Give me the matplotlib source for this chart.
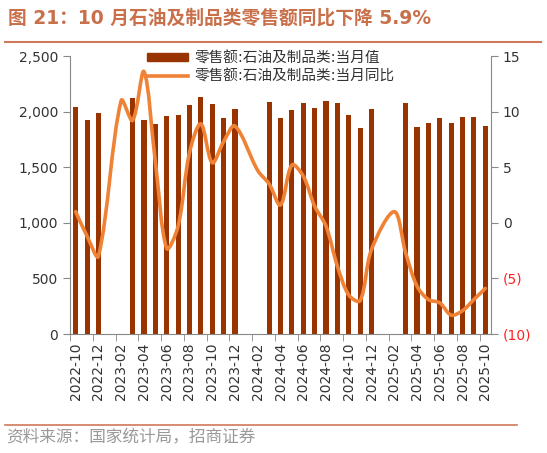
import numpy as np
import matplotlib
matplotlib.use('Agg')
import matplotlib.pyplot as plt
from matplotlib.path import Path
from matplotlib.patches import PathPatch
from matplotlib.lines import Line2D
from matplotlib.patches import Rectangle

plt.rcParams['font.family'] = ['DejaVu Sans', 'Noto Sans CJK SC']

# 月份（2022-10 到 2025-10）
months = ['2022-10', '2022-11', '2022-12',
          '2023-01', '2023-02', '2023-03', '2023-04', '2023-05', '2023-06',
          '2023-07', '2023-08', '2023-09', '2023-10', '2023-11', '2023-12',
          '2024-01', '2024-02', '2024-03', '2024-04', '2024-05', '2024-06',
          '2024-07', '2024-08', '2024-09', '2024-10', '2024-11', '2024-12',
          '2025-01', '2025-02', '2025-03', '2025-04', '2025-05', '2025-06',
          '2025-07', '2025-08', '2025-09', '2025-10']

# 当月值（亿元），1、2 月无单月数据
sales = [2045, 1925, 1990,
         np.nan, np.nan, 2120, 1920, 1890, 1960,
         1965, 2060, 2130, 2065, 1940, 2025,
         np.nan, np.nan, 2090, 1945, 2010, 2075,
         2035, 2095, 2075, 1965, 1855, 2025,
         np.nan, np.nan, 2075, 1865, 1895, 1945,
         1895, 1955, 1950, 1875]

# 当月同比（%）
yoy = [1.0, -1.2, -3.0,
       np.nan, 11.0, 9.2, 13.6, 5.5, -2.3,
       -0.3, 6.3, 8.9, 5.4, 7.3, 8.7,
       np.nan, 4.7, 3.5, 1.6, 5.2, 4.2,
       1.5, -0.3, -3.9, -6.5, -7.0, -2.4,
       np.nan, 1.0, -2.7, -5.7, -6.9, -7.2,
       -8.3, -7.9, -6.9, -5.9]

left_ticks = [0, 500, 1000, 1500, 2000, 2500]
right_ticks = [-10, -5, 0, 5, 10, 15]
right_labels = ['(10)', '(5)', '0', '5', '10', '15']

bar_color = '#993300'
line_color = '#F08236'
accent = '#D0785A'

x = np.arange(len(months))
sales = np.array(sales, dtype=float)
yoy = np.array(yoy, dtype=float)

fig = plt.figure(figsize=(5.47, 4.53), dpi=100)
ax1 = fig.add_axes([70 / 547, 1 - 334 / 453, 421 / 547, 278 / 453])
ax2 = ax1.twinx()

ok = ~np.isnan(sales)
ax1.bar(x[ok], sales[ok], width=0.45, color=bar_color, zorder=2)
ax1.set_ylim(0, 2500)
ax1.set_yticks(left_ticks)
ax1.set_yticklabels([f'{v:,}' for v in left_ticks])
ax1.set_xlim(-0.5, len(months) - 0.5)
ax2.set_ylim(-10, 15)

# 平滑曲线（类似 Excel 的平滑线，切线长度按相邻线段长度分配，仅用于绘制）
sx = 421 / len(months)   # 每个月的像素宽
sy = 278 / 25            # 每个百分点的像素高
m = ~np.isnan(yoy)
P = np.column_stack([x[m] * sx, yoy[m] * sy])
n = len(P)
tan = []
for i in range(n):
    a = P[max(i - 1, 0)]
    b = P[min(i + 1, n - 1)]
    tan.append(b - a)
verts = [tuple(P[0])]
codes = [Path.MOVETO]
for i in range(n - 1):
    p1, p2 = P[i], P[i + 1]
    d12 = np.hypot(*(p2 - p1))
    d01 = np.hypot(*(p1 - P[i - 1])) if i > 0 else d12
    d23 = np.hypot(*(P[i + 2] - p2)) if i + 2 < n else d12
    c1 = p1 + tan[i] * d12 / (d01 + d12) / 3
    c2 = p2 - tan[i + 1] * d12 / (d12 + d23) / 3
    verts += [tuple(c1), tuple(c2), tuple(p2)]
    codes += [Path.CURVE4] * 3
verts = [(vx / sx, vy / sy) for vx, vy in verts]
ax2.add_patch(PathPatch(Path(verts, codes), facecolor='none',
                        edgecolor=line_color, lw=2.6, capstyle='round',
                        joinstyle='round', zorder=3))
ax2.set_yticks(right_ticks)
ax2.set_yticklabels(right_labels)
for t, v in zip(ax2.get_yticklabels(), right_ticks):
    t.set_color('#FF2020' if v < 0 else '#333333')

# x 轴：每两个月一个标签，刻度在柱间
ax1.set_xticks(x[::2])
ax1.set_xticklabels(months[::2], rotation=90, fontsize=10, color='#333333')
ax1.tick_params(axis='x', length=0, pad=6)
ax1.set_xticks(np.arange(-0.5, len(months), 2), minor=True)
ax1.tick_params(axis='x', which='minor', length=5, color='#888888')

for ax in (ax1, ax2):
    ax.spines['top'].set_visible(False)
    for s in ('left', 'right', 'bottom'):
        ax.spines[s].set_color('#888888')
ax1.spines['right'].set_visible(False)
ax2.spines['left'].set_visible(False)
ax2.spines['bottom'].set_visible(False)
ax1.tick_params(axis='y', length=5, color='#888888', labelsize=10, labelcolor='#333333')
ax2.tick_params(axis='y', length=5, color='#888888', labelsize=10)

handles = [Rectangle((0, 0), 1, 1, color=bar_color),
           Line2D([], [], color=line_color, lw=2.6)]
labels = ['零售额:石油及制品类:当月值', '零售额:石油及制品类:当月同比']
fig.legend(handles, labels, loc='upper left', bbox_to_anchor=(0.255, 0.905),
           frameon=False, fontsize=10.5, handlelength=2.8, handleheight=0.5,
           handletextpad=0.45, labelspacing=0.2, borderpad=0,
           labelcolor='#333333')

fig.text(8 / 547, 1 - 18 / 453, '图 21：10 月石油及制品类零售额同比下降 5.9%',
         fontsize=13.5, fontweight='bold', color='#C9704B', va='center',
         family=['DejaVu Sans', 'Noto Sans CJK SC'])
fig.add_artist(Line2D([5 / 547, 541 / 547], [1 - 42 / 453] * 2, color=accent, lw=1.5))
fig.add_artist(Line2D([5 / 547, 517 / 547], [1 - 425 / 453] * 2, color=accent, lw=1.2))
fig.text(6 / 547, 1 - 438 / 453, '资料来源：国家统计局，招商证券',
         fontsize=12, color='#9A9A9A', va='center',
         family=['Noto Sans CJK SC', 'DejaVu Sans'])

fig.savefig('out.png', dpi=100)
